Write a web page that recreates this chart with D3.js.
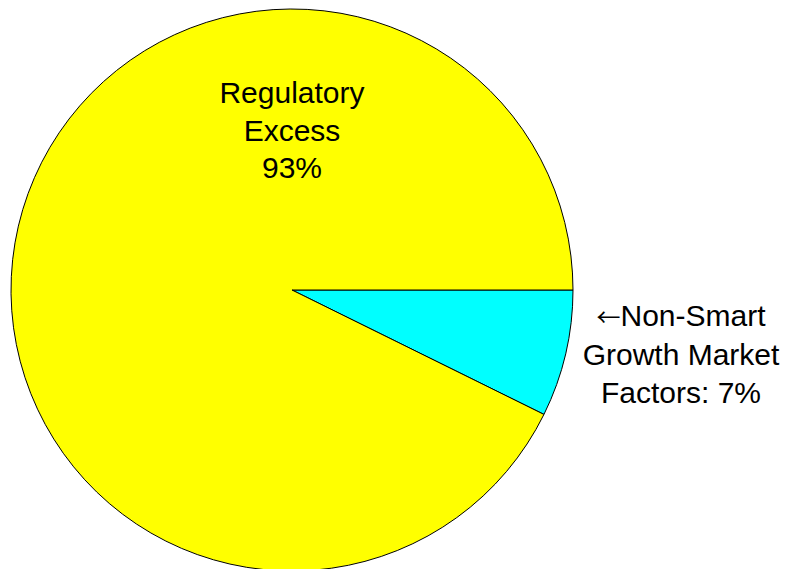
<!DOCTYPE html>
<html><head><meta charset="utf-8">
<script src="https://cdn.jsdelivr.net/npm/d3@7"></script>
<style>body{margin:0;background:#fff}svg{display:block}text{font-family:"Liberation Sans",Arial,sans-serif;fill:#000}tspan.arr{font-family:"Noto Sans CJK JP",sans-serif}</style>
</head><body>
<script>
const categories = ["Non-Smart Growth Market Factors", "Regulatory Excess"];
const values = [7.3, 92.7];
const colors = ["#00ffff", "#ffff00"];
const labelLines = [["Non-Smart", "Growth Market", "Factors: 7%"], ["Regulatory", "Excess", "93%"]];
const arrowGlyph = "\u2190";

const W = 793, H = 569, cx = 292, cy = 290, R = 281;
const svg = d3.select("body").append("svg").attr("width", W).attr("height", H);
const g = svg.append("g").attr("transform", `translate(${cx},${cy})`);

const pie = d3.pie().sort(null).value(d => d.v)
  .startAngle(Math.PI/2).endAngle(Math.PI/2 + 2*Math.PI);
const data = categories.map((c,i)=>({c, v: values[i], color: colors[i], lines: labelLines[i]}));
const arcs = pie(data);
const arc = d3.arc().innerRadius(0).outerRadius(R);

g.selectAll("path").data(arcs).join("path")
  .attr("d", arc).attr("fill", d => d.data.color)
  .attr("stroke", "#000").attr("stroke-width", 1).attr("stroke-linejoin","round");

const fs = 30;
const t1 = svg.append("text").attr("text-anchor","middle").attr("font-size", fs);
labelLines[1].forEach((l,i)=> t1.append("tspan").attr("x", 292).attr("y", 103 + i*37.5).text(l));
const t2 = svg.append("text").attr("text-anchor","middle").attr("font-size", fs);
labelLines[0].forEach((l,i)=> {
  const ts = t2.append("tspan").attr("x", 681).attr("y", 326 + i*38.5);
  if (i === 0) {
    ts.attr("class","arr").style("font-size","24px").text(arrowGlyph);
    t2.append("tspan").text(l);
  } else ts.text(l);
});
</script>
</body></html>
